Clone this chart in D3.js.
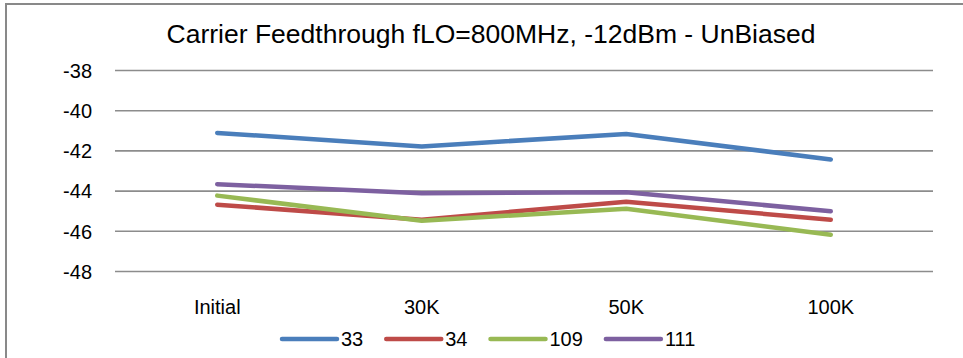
<!DOCTYPE html>
<html>
<head>
<meta charset="utf-8">
<script src="https://cdn.jsdelivr.net/npm/d3@7"></script>
<style>
  html, body { margin: 0; padding: 0; background: #fff; }
  svg { display: block; font-family: "Liberation Sans", Arial, sans-serif; }
</style>
</head>
<body>
<svg id="chart" width="963" height="358"></svg>
<script>
const title = "Carrier Feedthrough fLO=800MHz, -12dBm - UnBiased";
const categories = ["Initial", "30K", "50K", "100K"];
const seriesNames = ["33", "34", "109", "111"];
const s33  = [-41.13, -41.80, -41.18, -42.45];
const s34  = [-44.70, -45.45, -44.55, -45.45];
const s109 = [-44.25, -45.50, -44.90, -46.20];
const s111 = [-43.68, -44.13, -44.08, -45.03];
const yTicks = [-38, -40, -42, -44, -46, -48];
const yTickLabels = ["-38", "-40", "-42", "-44", "-46", "-48"];
const colors = ["#4a7ebb", "#be4b48", "#98b954", "#7d60a0"];

const seriesValues = [s33, s34, s109, s111];

const svg = d3.select("#chart");
const W = 963, H = 358;

// outer frame
svg.append("rect")
  .attr("x", 6).attr("y", 4)
  .attr("width", W + 10).attr("height", H + 10)
  .attr("fill", "none").attr("stroke", "#898989").attr("stroke-width", 2);

const plot = { left: 115, right: 933, top: 70, bottom: 271 };

const x = d3.scaleBand().domain(categories).range([plot.left, plot.right]);
const y = d3.scaleLinear().domain([-48, -38]).range([plot.bottom, plot.top]);

// title
svg.append("text")
  .attr("x", 491).attr("y", 43)
  .attr("text-anchor", "middle")
  .attr("font-size", 26.5)
  .attr("fill", "#000")
  .text(title);

// gridlines + y labels via axis
const yAxis = d3.axisLeft(y).tickValues(yTicks)
  .tickSize(-(plot.right - plot.left)).tickPadding(23)
  .tickFormat((d, i) => yTickLabels[i]);
const gy = svg.append("g").attr("transform", `translate(${plot.left},0)`).call(yAxis);
gy.select(".domain").remove();
gy.selectAll(".tick line").attr("stroke", "#8c8c8c").attr("stroke-width", 1.6);
gy.selectAll(".tick text").attr("font-size", 20).attr("fill", "#000")
  .attr("font-family", "Liberation Sans, Arial, sans-serif").attr("dy", "0.36em");

// x labels via axis
const xAxis = d3.axisBottom(x).tickSize(0).tickPadding(0);
const gx = svg.append("g").attr("transform", `translate(0,${plot.bottom})`).call(xAxis);
gx.select(".domain").remove();
gx.selectAll(".tick text").attr("font-size", 20).attr("fill", "#000")
  .attr("font-family", "Liberation Sans, Arial, sans-serif")
  .attr("dy", null).attr("y", 43);

// lines
const line = d3.line()
  .x((d, i) => x(categories[i]) + x.bandwidth() / 2)
  .y(d => y(d));

seriesValues.forEach((vals, k) => {
  svg.append("path")
    .datum(vals)
    .attr("d", line)
    .attr("fill", "none")
    .attr("stroke", colors[k])
    .attr("stroke-width", 4.5)
    .attr("stroke-linecap", "round")
    .attr("stroke-linejoin", "round");
});

// legend
const leg = svg.append("g");
let lx = 282;
const ly = 339;
seriesNames.forEach((name, k) => {
  leg.append("line")
    .attr("x1", lx).attr("x2", lx + 55)
    .attr("y1", ly).attr("y2", ly)
    .attr("stroke", colors[k]).attr("stroke-width", 4.5)
    .attr("stroke-linecap", "round");
  const t = leg.append("text")
    .attr("x", lx + 59).attr("y", ly + 7)
    .attr("font-size", 20).attr("fill", "#000")
    .text(name);
  lx += 59 + t.node().getComputedTextLength() + 23;
});
</script>
</body>
</html>
